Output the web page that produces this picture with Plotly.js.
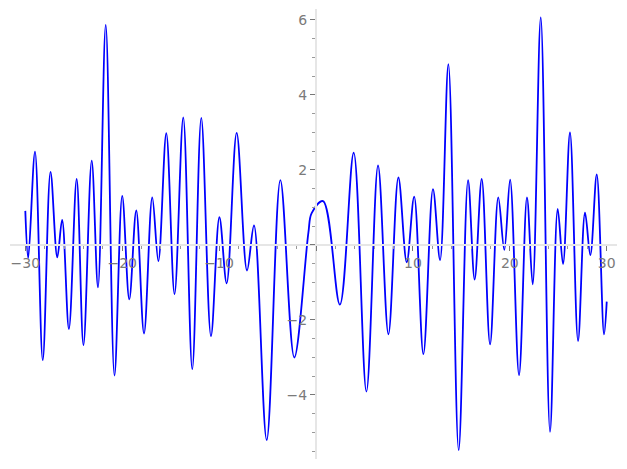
<!DOCTYPE html>
<html>
<head>
<meta charset="utf-8">
<script src="https://cdn.plot.ly/plotly-3.0.1.min.js"></script>
<style>html,body{margin:0;padding:0;background:#fff;}#chart{width:627px;height:469px;}</style>
</head>
<body>
<div id="chart"></div>
<script>
// Points (extrema and a shoulder near 0)
const xValues = [-30, -29.7, -29.0, -28.2, -27.4, -26.7, -26.2, -25.5, -24.7, -24.0, -23.15, -22.5, -21.7, -20.8,
  -20.0, -19.27, -18.55, -17.75, -16.9, -16.27, -15.45, -14.6, -13.7, -12.77, -11.84, -10.84, -9.97, -9.22,
  -8.19, -7.12, -6.4, -5.09, -3.68, -2.24, -0.79, -0.45, 0.72, 2.46, 3.89, 5.2, 6.4, 7.47, 8.5, 9.36,
  10.13, 11.08, 12.07, 12.8, 13.66, 14.72, 15.69, 16.37, 17.1, 17.96, 18.81, 19.43, 20.03, 20.95, 21.77,
  22.36, 23.19, 24.15, 24.94, 25.49, 26.21, 27.04, 27.76, 28.31, 28.97, 29.72, 30];
const yValues = [0.91, -0.35, 2.49, -3.07, 1.95, -0.33, 0.67, -2.24, 1.76, -2.67, 2.25, -1.13, 5.87, -3.48,
  1.31, -1.45, 0.92, -2.36, 1.27, -0.43, 2.98, -1.31, 3.40, -3.31, 3.39, -2.43, 0.74, -1.02,
  2.99, -0.68, 0.52, -5.2, 1.73, -3.0, 0.32, 0.85, 1.17, -1.59, 2.46, -3.91, 2.12, -2.38, 1.8, -0.46,
  1.29, -2.91, 1.49, -0.4, 4.82, -5.47, 1.73, -0.92, 1.76, -2.65, 1.27, -0.13, 1.74, -3.47, 1.27,
  -1.05, 6.07, -4.98, 0.96, -0.51, 3.0, -2.56, 0.86, -0.27, 1.88, -2.38, -1.51];

const xTickVals = [-30, -20, -10, 0, 10, 20, 30];
const xTickText = ['\u221230', '\u221220', '\u221210', '', '10', '20', '30'];
const yTickVals = [-4, -2, 0, 2, 4, 6];
const yTickText = ['\u22124', '\u22122', '', '2', '4', '6'];

const xRange = [-31.58, 31.06];
const yRange = [-5.707, 6.293];

const tickFont = {family: 'DejaVu Sans', size: 14, color: '#7a7a7a'};

const trace = {
  x: xValues, y: yValues, type: 'scatter', mode: 'lines',
  line: {color: '#0000ff', width: 1.8, shape: 'spline', smoothing: 1},
  hoverinfo: 'skip'
};

const layout = {
  width: 627, height: 469,
  margin: {l: 10, r: 10, t: 9, b: 10},
  paper_bgcolor: '#ffffff', plot_bgcolor: '#ffffff',
  showlegend: false,
  xaxis: {
    range: xRange, anchor: 'free',
    position: (0 - yRange[0]) / (yRange[1] - yRange[0]),
    showgrid: false, zeroline: false,
    showline: true, linecolor: '#e6e6e6', linewidth: 2,
    tickmode: 'array', tickvals: xTickVals, ticktext: xTickText,
    ticks: 'outside', ticklen: 5, tickwidth: 1, tickcolor: '#777777',
    tickfont: tickFont,
    minor: {tickmode: 'linear', tick0: 0, dtick: 2, ticks: 'outside', ticklen: 3, tickwidth: 1, tickcolor: '#999999', showgrid: false}
  },
  yaxis: {
    range: yRange, anchor: 'free',
    position: (0 - xRange[0]) / (xRange[1] - xRange[0]),
    showgrid: false, zeroline: false,
    showline: true, linecolor: '#e6e6e6', linewidth: 2,
    tickmode: 'array', tickvals: yTickVals, ticktext: yTickText,
    ticks: 'outside', ticklen: 5, tickwidth: 1, tickcolor: '#777777',
    tickfont: tickFont,
    minor: {tickmode: 'linear', tick0: 0, dtick: 0.5, ticks: 'outside', ticklen: 3, tickwidth: 1, tickcolor: '#999999', showgrid: false}
  }
};

Plotly.newPlot('chart', [trace], layout, {staticPlot: true, displayModeBar: false});
</script>
</body>
</html>
